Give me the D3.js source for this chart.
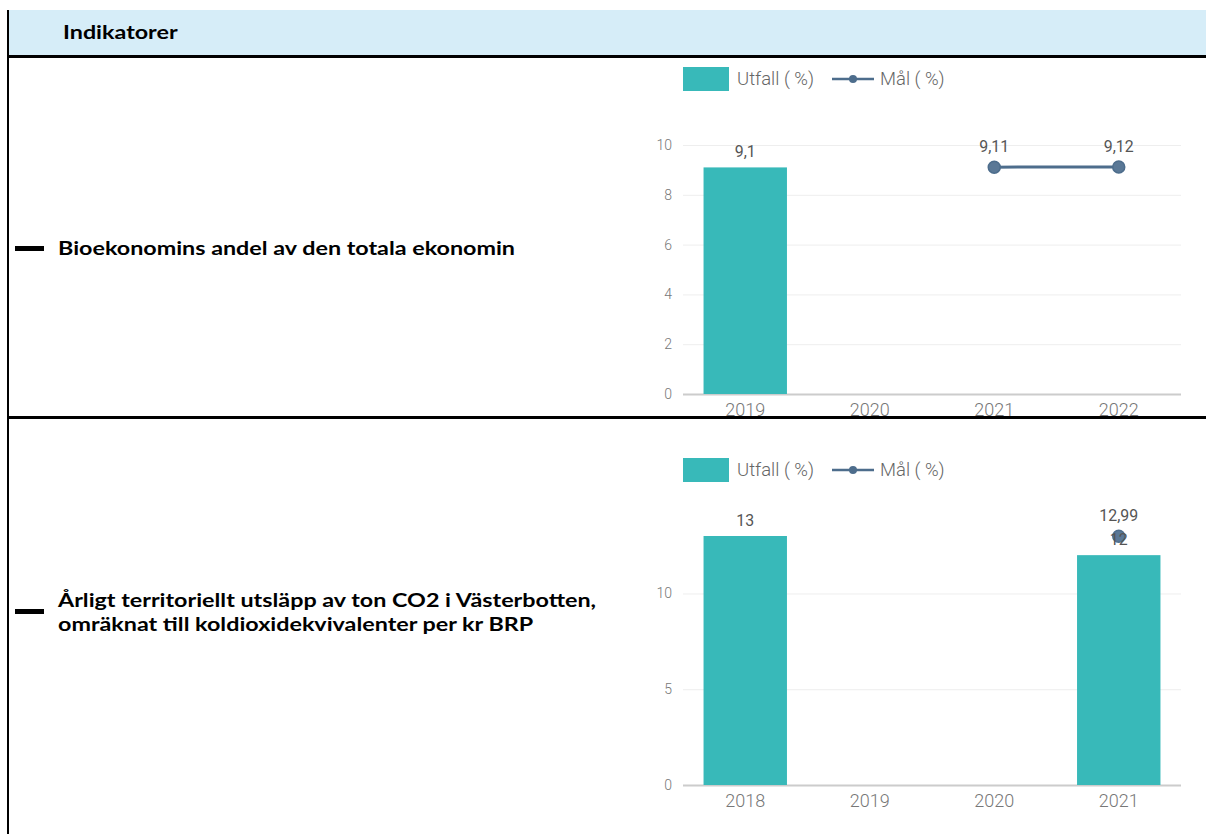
<!DOCTYPE html>
<html><head><meta charset="utf-8">
<script src="https://cdn.jsdelivr.net/npm/d3@7"></script>
<style>body{margin:0;background:#fff}svg{display:block}</style>
</head><body>
<svg id="c" width="1206" height="834"></svg>
<script>
// ---- data ----
const headerTitle = "Indikatorer";
const rowTitles1 = ["Bioekonomins andel av den totala ekonomin"];
const rowTitles2 = ["Årligt territoriellt utsläpp av ton CO2 i Västerbotten,", "omräknat till koldioxidekvivalenter per kr BRP"];
const legendLabels = ["Utfall ( %)", "Mål ( %)"];

const categories1 = ["2019", "2020", "2021", "2022"];
const utfall1 = [9.1, null, null, null];
const mal1 = [null, null, 9.11, 9.12];
const yTicks1 = [0, 2, 4, 6, 8, 10];
const yMax1 = 10;

const categories2 = ["2018", "2019", "2020", "2021"];
const utfall2 = [13, null, null, 12];
const mal2 = [null, null, null, 12.99];
const yTicks2 = [0, 5, 10];
const yMax2 = 13;

// ---- drawing ----
const svg = d3.select("#c");
const sv = d3.formatLocale({decimal: ",", thousands: " ", grouping: [3], currency: ["", " kr"]});
const fmt = v => sv.format("~g")(v);

const BAR = "#38b9b9", LINE = "#4d6d8c";

function measure(family, weight, size, s) {
  const t = svg.append("text").attr("font-family", family).attr("font-weight", weight)
    .attr("font-size", size).text(s);
  const w = t.node().getComputedTextLength();
  t.remove();
  return w;
}
function fitSize(family, weight, sample, width) {
  return 20 * width / measure(family, weight, 20, sample);
}

// table frame
svg.append("rect").attr("x", 9).attr("y", 10).attr("width", 1197).attr("height", 46).attr("fill", "#d6edf8");
svg.append("rect").attr("x", 7).attr("y", 10).attr("width", 2).attr("height", 824).attr("fill", "#000");
svg.append("rect").attr("x", 7).attr("y", 55).attr("width", 1199).attr("height", 3).attr("fill", "#000");
svg.append("rect").attr("x", 7).attr("y", 416).attr("width", 1199).attr("height", 3).attr("fill", "#000");

const tf = "Lato, 'Open Sans', sans-serif";
const fs = 19;
// horizontal stretch so that the long line gets the reference width
const stretch = 538 / measure(tf, 700, fs, rowTitles2[0]);

function label(x, y, s) {
  svg.append("text").attr("x", x).attr("y", y).attr("font-family", tf).attr("font-weight", 700)
    .attr("font-size", fs).attr("fill", "#000")
    .attr("textLength", measure(tf, 700, fs, s) * stretch).attr("lengthAdjust", "spacingAndGlyphs")
    .text(s);
}
label(63, 39, headerTitle);

function rowTitle(lines, y0, dashY) {
  svg.append("rect").attr("x", 15).attr("y", dashY).attr("width", 29).attr("height", 5).attr("fill", "#000");
  lines.forEach((t, i) => label(58, y0 + i * 24, t));
}
rowTitle(rowTitles1, 255, 246);
rowTitle(rowTitles2, 607, 609);

const cf = "Roboto, 'Noto Sans', sans-serif";
const legFs = fitSize(cf, 300, legendLabels[0], 77);
const xFs = fitSize(cf, 300, "2019", 40);
const lblFs = fitSize(cf, 400, "9,1", 21);

function chart(cats, utfall, mal, ticks, yMax, y0, legendTop) {
  const g = svg.append("g");
  const x = d3.scaleBand().domain(cats).range([683, 1181]).paddingInner(0.33).paddingOuter(0.165);
  const y = d3.scaleLinear().domain([0, yMax]).range([y0, y0 - 249]);

  // legend
  g.append("rect").attr("x", 683).attr("y", legendTop).attr("width", 46).attr("height", 24).attr("fill", BAR);
  g.append("text").attr("x", 737).attr("y", legendTop + 18).attr("font-family", cf).attr("font-size", legFs)
    .attr("font-weight", 300).attr("fill", "#666").text(legendLabels[0]);
  g.append("line").attr("x1", 832).attr("x2", 874).attr("y1", legendTop + 12).attr("y2", legendTop + 12)
    .attr("stroke", LINE).attr("stroke-width", 2.5);
  g.append("circle").attr("cx", 853).attr("cy", legendTop + 12).attr("r", 4).attr("fill", LINE);
  g.append("text").attr("x", 880).attr("y", legendTop + 18).attr("font-family", cf).attr("font-size", legFs)
    .attr("font-weight", 300).attr("fill", "#666").text(legendLabels[1]);

  // grid
  const yAxis = d3.axisLeft(y).tickValues(ticks).tickSize(-498).tickFormat(fmt).tickPadding(11);
  const ya = g.append("g").attr("transform", "translate(683,0)").call(yAxis);
  ya.select(".domain").remove();
  ya.selectAll(".tick line").attr("stroke", "#eeeeee").attr("stroke-width", 1);
  ya.selectAll(".tick text").attr("font-family", cf).attr("font-size", 14).attr("font-weight", 300).attr("fill", "#777");
  ya.selectAll(".tick").filter(d => d === 0).select("line").attr("stroke", "#cccccc").attr("stroke-width", 2);

  // x axis
  const xAxis = d3.axisBottom(x).tickSize(0).tickPadding(9);
  const xa = g.append("g").attr("transform", `translate(0,${y0})`).call(xAxis);
  xa.select(".domain").remove();
  xa.selectAll(".tick text").attr("font-family", cf).attr("font-size", xFs).attr("font-weight", 300).attr("fill", "#777");

  // bars
  const bd = cats.map((c, i) => ({c, v: utfall[i]})).filter(d => d.v != null);
  g.selectAll(".bar").data(bd).join("rect").attr("class", "bar")
    .attr("x", d => x(d.c)).attr("width", x.bandwidth())
    .attr("y", d => y(d.v)).attr("height", d => y(0) - y(d.v)).attr("fill", BAR);

  // line
  const ld = cats.map((c, i) => ({c, v: mal[i]})).filter(d => d.v != null);
  const line = d3.line().x(d => x(d.c) + x.bandwidth() / 2).y(d => y(d.v));
  g.append("path").datum(ld).attr("d", line).attr("fill", "none").attr("stroke", LINE).attr("stroke-width", 3);
  g.selectAll(".pt").data(ld).join("circle").attr("class", "pt")
    .attr("cx", d => x(d.c) + x.bandwidth() / 2).attr("cy", d => y(d.v)).attr("r", 6)
    .attr("fill", "#5a7896").attr("stroke", LINE).attr("stroke-width", 1.5);
  g.selectAll(".pl").data(ld).join("text").attr("class", "pl")
    .attr("x", d => x(d.c) + x.bandwidth() / 2).attr("y", d => y(d.v) - 15)
    .attr("text-anchor", "middle").attr("font-family", cf).attr("font-size", lblFs).attr("fill", "#555")
    .text(d => fmt(d.v));

  // bar labels (drawn last, on top)
  g.selectAll(".bl").data(bd).join("text").attr("class", "bl")
    .attr("x", d => x(d.c) + x.bandwidth() / 2).attr("y", d => y(d.v) - 10)
    .attr("text-anchor", "middle").attr("font-family", cf).attr("font-size", lblFs).attr("fill", "#555")
    .text(d => fmt(d.v));
}

chart(categories1, utfall1, mal1, yTicks1, yMax1, 394, 67);
chart(categories2, utfall2, mal2, yTicks2, yMax2, 785, 458);
</script>
</body></html>
